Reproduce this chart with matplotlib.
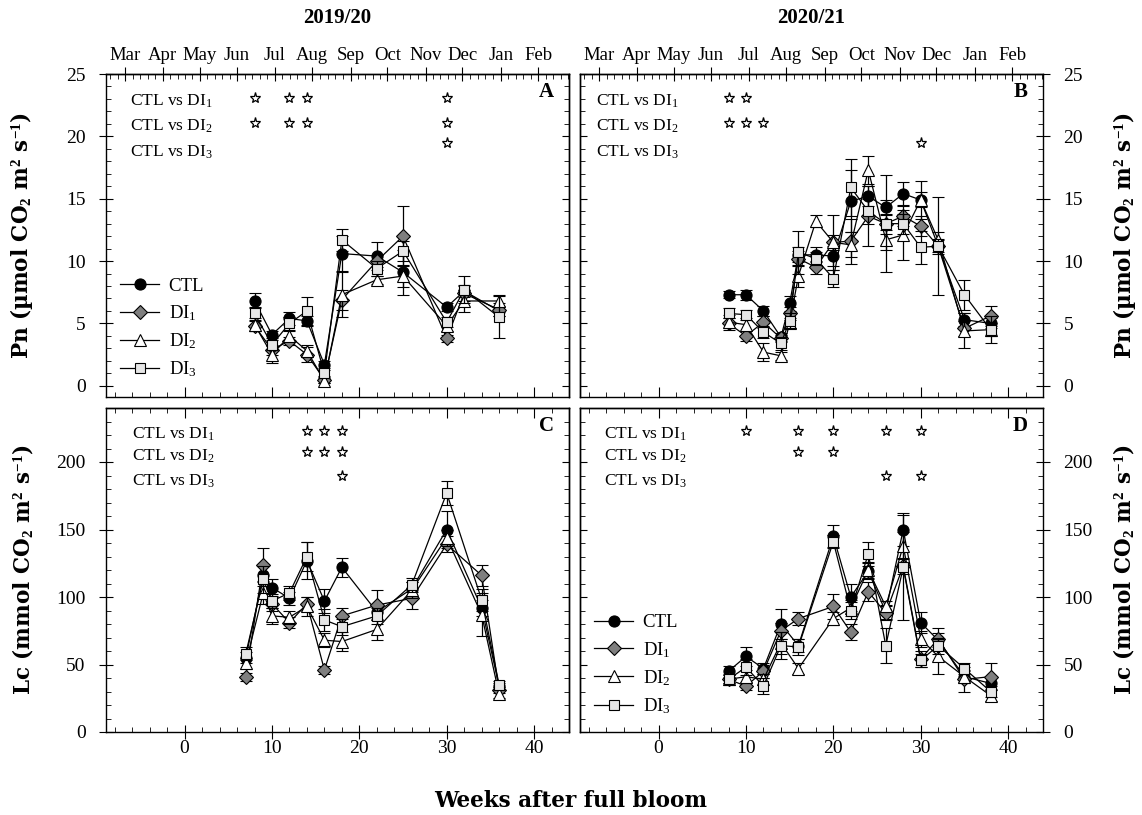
import numpy as np
import matplotlib
matplotlib.use("Agg")
import matplotlib.pyplot as plt
from matplotlib.lines import Line2D
from matplotlib.ticker import MultipleLocator, FixedLocator, NullFormatter

plt.rcParams['font.family'] = ['Liberation Serif', 'DejaVu Serif']
plt.rcParams['mathtext.fontset'] = 'custom'
plt.rcParams['mathtext.rm'] = 'Liberation Serif'
plt.rcParams['mathtext.it'] = 'Liberation Serif:italic'
plt.rcParams['mathtext.bf'] = 'Liberation Serif:bold'
plt.rcParams['axes.linewidth'] = 1.0

# ---------------- data ----------------
season_titles = ["2019/20", "2020/21"]
months = ["Mar", "Apr", "May", "Jun", "Jul", "Aug", "Sep", "Oct", "Nov", "Dec", "Jan", "Feb"]
month_weeks = [-6.8, -2.5, 1.75, 6.0, 10.3, 14.6, 19.0, 23.2, 27.6, 31.8, 36.2, 40.5]
week_ticks = [0, 10, 20, 30, 40]
series_names = ["CTL", "DI$_\\mathrm{1}$", "DI$_\\mathrm{2}$", "DI$_\\mathrm{3}$"]
comparisons = ["CTL vs DI$_\\mathrm{1}$", "CTL vs DI$_\\mathrm{2}$", "CTL vs DI$_\\mathrm{3}$"]

# Panel A: Pn 2019/20
weeks_a = [8, 10, 12, 14, 16, 18, 22, 25, 30, 32, 36]
ctl_a = [6.8, 4.1, 5.4, 5.2, 1.7, 10.6, 10.4, 9.1, 6.3, 7.6, 6.0]
ctl_a_err = [0.6, 0.3, 0.5, 0.4, 0.3, 1.4, 1.15, 1.8, 0.3, 0.5, 0.4]
di1_a = [4.8, 2.9, 3.6, 2.5, 0.5, 6.9, 10.0, 12.0, 3.8, 7.4, 6.1]
di1_a_err = [0.4, 0.4, 0.3, 0.6, 0.3, 0.8, 0.5, 2.4, 0.3, 0.6, 0.5]
di2_a = [4.9, 2.5, 4.0, 2.8, 0.4, 7.3, 8.5, 8.8, 4.8, 6.8, 6.8]
di2_a_err = [0.5, 0.7, 0.4, 0.5, 0.2, 1.8, 0.3, 0.9, 0.4, 0.85, 0.45]
di3_a = [5.8, 3.3, 5.0, 6.0, 1.0, 11.7, 9.4, 10.8, 5.1, 7.7, 5.5]
di3_a_err = [0.5, 0.4, 0.5, 1.1, 0.3, 0.9, 0.6, 0.8, 0.4, 1.1, 1.7]
sig_a = [[8, 12, 14, 30], [8, 12, 14, 30], [30]]

# Panel B: Pn 2020/21
weeks_b = [8, 10, 12, 14, 15, 16, 18, 20, 22, 24, 26, 28, 30, 32, 35, 38]
ctl_b = [7.3, 7.3, 6.0, 3.9, 6.6, 10.5, 10.5, 10.4, 14.8, 15.2, 14.3, 15.4, 14.9, 11.2, 5.3, 5.0]
ctl_b_err = [0.3, 0.4, 0.4, 0.3, 0.6, 0.6, 0.6, 0.8, 2.5, 0.8, 0.6, 0.9, 0.6, 0.5, 0.5, 0.4]
di1_b = [5.0, 4.0, 5.1, 3.8, 5.8, 10.2, 9.5, 11.5, 11.6, 13.6, 13.0, 13.6, 12.8, 11.2, 4.6, 5.6]
di1_b_err = [0.4, 0.4, 0.5, 0.3, 0.5, 0.6, 0.5, 2.2, 1.8, 2.4, 0.8, 0.8, 0.8, 3.9, 0.6, 0.8]
di2_b = [5.1, 4.9, 2.7, 2.4, 5.0, 8.8, 13.2, 11.5, 11.3, 17.3, 11.7, 12.1, 14.9, 11.7, 4.4, 4.5]
di2_b_err = [0.6, 0.5, 0.7, 0.3, 0.4, 0.9, 0.5, 0.6, 1.0, 1.1, 0.8, 2.0, 1.5, 0.6, 1.4, 0.5]
di3_b = [5.8, 5.7, 4.3, 3.4, 5.2, 10.7, 10.2, 8.6, 15.9, 14.0, 13.0, 13.0, 11.1, 11.2, 7.3, 4.5]
di3_b_err = [0.4, 0.4, 0.5, 0.5, 0.6, 1.7, 0.5, 0.7, 2.3, 1.0, 3.9, 0.8, 1.35, 0.6, 1.2, 1.1]
sig_b = [[8, 10], [8, 10, 12], [30]]

# Panel C: Lc 2019/20
weeks_c = [7, 9, 10, 12, 14, 16, 18, 22, 26, 30, 34, 36]
ctl_c = [55, 116, 107, 99, 127, 97, 122, 89, 106, 150, 92, 34]
ctl_c_err = [4, 8, 6, 5, 14, 9, 7, 6, 5, 14, 6, 2]
di1_c = [41, 124, 95, 81, 95, 46, 86, 94, 99, 139, 116, 31]
di1_c_err = [3, 12, 5, 4, 5, 3, 6, 11, 8, 6, 8, 2]
di2_c = [51, 103, 86, 85, 93, 68, 67, 76, 105, 144, 87, 28]
di2_c_err = [4, 8, 6, 5, 7, 5, 7, 8, 6, 6, 16, 3]
di3_c = [58, 113, 97, 103, 130, 83, 78, 86, 109, 177, 98, 35]
di3_c_err = [5, 10, 5, 5, 11, 8, 6, 6, 5, 9, 8, 3]
sig_c = [[14, 16, 18], [14, 16, 18], [18]]

# Panel D: Lc 2020/21
weeks_d = [8, 10, 12, 14, 16, 20, 22, 24, 26, 28, 30, 32, 35, 38]
ctl_d = [45, 56, 47, 80, 64, 145, 100, 119, 89, 150, 81, 68, 41, 36]
ctl_d_err = [4, 7, 4, 11, 5, 8, 10, 6, 5, 12, 8, 5, 4, 4]
di1_d = [39, 34, 45, 75, 84, 93, 74, 104, 88, 123, 54, 69, 39, 41]
di1_d_err = [3, 3, 5, 6, 5, 9, 6, 7, 5, 6, 6, 8, 9, 10]
di2_d = [39, 41, 39, 66, 47, 84, 92, 120, 93, 138, 69, 56, 41, 27]
di2_d_err = [3, 5, 4, 8, 4, 5, 6, 6, 4, 10, 6, 13, 5, 4]
di3_d = [39, 48, 34, 64, 63, 141, 90, 132, 64, 122, 53, 64, 47, 30]
di3_d_err = [4, 6, 6, 10, 6, 5, 6, 9, 13, 39, 5, 6, 4, 4]
sig_d = [[10, 16, 20, 26, 30], [16, 20], [26, 30]]

# ---------------- styles ----------------
mstyles = [
    dict(marker='o', mfc='black', ms=8),
    dict(marker='D', mfc='#7f7f7f', ms=7),
    dict(marker='^', mfc='white', ms=8.5),
    dict(marker='s', mfc='#e6e6e6', ms=7.5),
]
LABEL_FONT = ['DejaVu Serif']

W_PX, H_PX = 1142, 815
fig = plt.figure(figsize=(W_PX / 100, H_PX / 100), dpi=100)


def box(x0, y0, x1, y1):
    return [x0 / W_PX, 1 - y1 / H_PX, (x1 - x0) / W_PX, (y1 - y0) / H_PX]


axA = fig.add_axes(box(106, 74, 569, 397))
axB = fig.add_axes(box(580, 74, 1043, 397))
axC = fig.add_axes(box(106, 408, 569, 732))
axD = fig.add_axes(box(580, 408, 1043, 732))

MAJ_LEN = 9.5
MIN_LEN = 3.5


def plot_series(ax, weeks, ys, errs):
    for i, (y, e) in enumerate(zip(ys, errs)):
        st = mstyles[i]
        ax.errorbar(weeks, y, yerr=e, color='black', lw=0.9, elinewidth=0.9,
                    capsize=4.5, capthick=0.9, marker=st['marker'], ms=st['ms'],
                    mfc=st['mfc'], mec='black', mew=0.8, zorder=3 + i)


def setup(ax, ylim, ymaj, ymin, top, ylab_right, letter, ylabel):
    ax.set_xlim(-9, 44)
    ax.set_ylim(*ylim)
    ax.xaxis.set_major_locator(FixedLocator(week_ticks))
    ax.xaxis.set_minor_locator(MultipleLocator(2))
    ax.yaxis.set_major_locator(MultipleLocator(ymaj))
    ax.yaxis.set_minor_locator(MultipleLocator(ymin))
    if top:
        ax.tick_params(axis='x', which='major', direction='in', length=MAJ_LEN * 0.75,
                       labelbottom=False, top=False)
        ax.tick_params(axis='x', which='minor', direction='in', length=MIN_LEN, top=False)
        sec = ax.secondary_xaxis('top')
        sec.set_xticks(month_weeks)
        sec.set_xticklabels(months)
        mins = []
        full = [month_weeks[0] - 4.3] + month_weeks + [month_weeks[-1] + 4.3]
        for a, b in zip(full[:-1], full[1:]):
            for k in range(1, 5):
                v = a + (b - a) * k / 5
                if -9 < v < 44:
                    mins.append(v)
        sec.xaxis.set_minor_locator(FixedLocator(mins))
        sec.tick_params(axis='x', which='major', direction='inout', length=MAJ_LEN,
                        labelsize=13.5, pad=2.5)
        sec.tick_params(axis='x', which='minor', direction='in', length=MIN_LEN)
    else:
        ax.tick_params(axis='x', which='major', direction='inout', length=MAJ_LEN,
                       labelsize=14, pad=1.0, top=False)
        ax.tick_params(axis='x', which='minor', direction='in', length=MIN_LEN, top=False)
        sec = ax.secondary_xaxis('top')
        sec.xaxis.set_major_locator(FixedLocator(week_ticks))
        sec.xaxis.set_minor_locator(MultipleLocator(2))
        sec.xaxis.set_major_formatter(NullFormatter())
        sec.tick_params(axis='x', which='major', direction='in', length=MAJ_LEN * 0.75)
        sec.tick_params(axis='x', which='minor', direction='in', length=MIN_LEN)
    if ylab_right:
        ax.yaxis.tick_right()
        ax.yaxis.set_label_position('right')
        side_other = 'left'
    else:
        side_other = 'right'
    ax.tick_params(axis='y', which='major', direction='inout', length=MAJ_LEN,
                   labelsize=14, pad=10)
    ax.tick_params(axis='y', which='minor', direction='in', length=MIN_LEN)
    secy = ax.secondary_yaxis(side_other)
    secy.yaxis.set_major_locator(MultipleLocator(ymaj))
    secy.yaxis.set_minor_locator(MultipleLocator(ymin))
    secy.yaxis.set_major_formatter(NullFormatter())
    secy.tick_params(axis='y', which='major', direction='in', length=MAJ_LEN * 0.5)
    secy.tick_params(axis='y', which='minor', direction='in', length=MIN_LEN)
    ax.set_ylabel(ylabel, fontsize=15.5, fontweight='bold', family=LABEL_FONT)
    if ylab_right:
        ax.yaxis.set_label_coords(1.147, 0.5)
    else:
        ax.yaxis.set_label_coords(-0.153, 0.5)
    ax.text(0.967, 0.945, letter, transform=ax.transAxes, ha='right', va='center',
            fontsize=15, fontweight='bold')


def sig_rows(ax, text_x, text_ys, star_ys, sig):
    for r in range(3):
        ax.text(text_x, text_ys[r], comparisons[r], fontsize=12.5, ha='left',
                va='center_baseline')
        if sig[r]:
            ax.plot(sig[r], [star_ys[r]] * len(sig[r]), linestyle='none', marker='*',
                    ms=8, mfc='white', mec='black', mew=0.9, zorder=10)


pn_label = 'Pn (µmol CO$_\\mathbf{2}$ m$^\\mathbf{2}$ s$^\\mathbf{-1}$)'
lc_label = 'Lc (mmol CO$_\\mathbf{2}$ m$^\\mathbf{2}$ s$^\\mathbf{-1}$)'

plot_series(axA, weeks_a, [ctl_a, di1_a, di2_a, di3_a], [ctl_a_err, di1_a_err, di2_a_err, di3_a_err])
plot_series(axB, weeks_b, [ctl_b, di1_b, di2_b, di3_b], [ctl_b_err, di1_b_err, di2_b_err, di3_b_err])
plot_series(axC, weeks_c, [ctl_c, di1_c, di2_c, di3_c], [ctl_c_err, di1_c_err, di2_c_err, di3_c_err])
plot_series(axD, weeks_d, [ctl_d, di1_d, di2_d, di3_d], [ctl_d_err, di1_d_err, di2_d_err, di3_d_err])

setup(axA, (-0.9, 25), 5, 1, True, False, 'A', pn_label)
setup(axB, (-0.9, 25), 5, 1, True, True, 'B', pn_label)
setup(axC, (0, 240), 50, 10, False, False, 'C', lc_label)
setup(axD, (0, 240), 50, 10, False, True, 'D', lc_label)

sig_rows(axA, -6.3, [22.95, 20.95, 18.9], [23.05, 21.1, 19.5], sig_a)
sig_rows(axB, -7.2, [22.95, 20.95, 18.9], [23.05, 21.1, 19.5], sig_b)
sig_rows(axC, -6.0, [222, 206, 187], [223, 207.5, 190], sig_c)
sig_rows(axD, -6.2, [222, 206, 187], [223, 207.5, 190], sig_d)

handles = [Line2D([], [], color='black', lw=0.9, marker=s['marker'], ms=s['ms'],
                  mfc=s['mfc'], mec='black', mew=0.8) for s in mstyles]
for ax, anchor in [(axA, (0.03, 0.055)), (axD, (0.03, 0.05))]:
    ax.legend(handles, series_names, loc='lower left', bbox_to_anchor=anchor,
              frameon=False, fontsize=13.5, handlelength=2.1, handletextpad=0.5,
              labelspacing=0.45, borderpad=0, borderaxespad=0)

fig.text(337.5 / W_PX, 1 - 18 / H_PX, season_titles[0], ha='center', va='center',
         fontsize=15, fontweight='bold')
fig.text(811.5 / W_PX, 1 - 18 / H_PX, season_titles[1], ha='center', va='center',
         fontsize=15, fontweight='bold')
fig.text(0.5, 1 - 801 / H_PX, 'Weeks after full bloom', ha='center', va='center',
         fontsize=15.5, fontweight='bold', family=LABEL_FONT)

fig.savefig('out.png', dpi=100)
